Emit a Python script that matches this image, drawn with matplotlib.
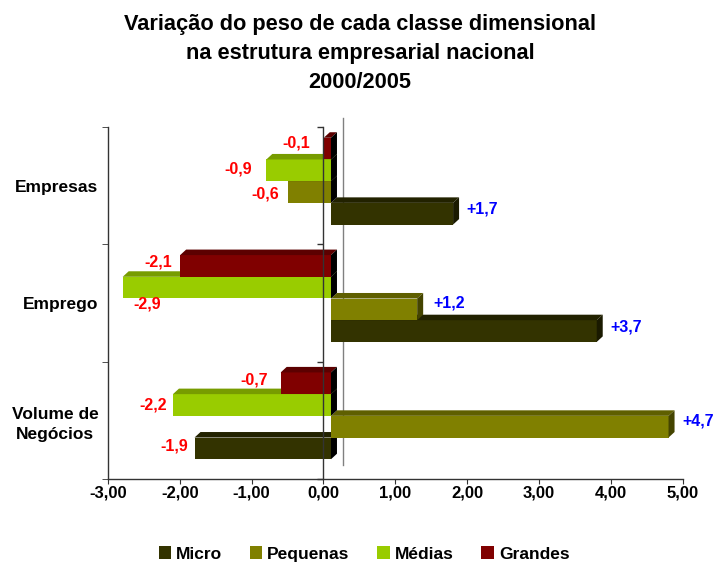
import numpy as np
import matplotlib
matplotlib.use('Agg')
import matplotlib.pyplot as plt
from matplotlib.patches import Polygon, Patch
from matplotlib.ticker import FuncFormatter
from matplotlib.transforms import offset_copy, blended_transform_factory

plt.rcParams['font.family'] = ['Liberation Sans', 'DejaVu Sans']
plt.rcParams['font.weight'] = 'bold'

# data
categories = ['Empresas', 'Emprego', 'Volume de\nNegócios']
series = ['Micro', 'Pequenas', 'Médias', 'Grandes']
micro = [1.7, 3.7, -1.9]
pequenas = [-0.6, 1.2, 4.7]
medias = [-0.9, -2.9, -2.2]
grandes = [-0.1, -2.1, -0.7]
values = dict(zip(series, [micro, pequenas, medias, grandes]))
title = 'Variação do peso de cada classe dimensional\nna estrutura empresarial nacional\n2000/2005'

# style
front = {'Micro': '#333300', 'Pequenas': '#808000', 'Médias': '#99CC00', 'Grandes': '#800000'}
topc = {'Micro': '#222200', 'Pequenas': '#5f5f00', 'Médias': '#779c00', 'Grandes': '#5c0000'}
sidec = {'Micro': '#1a1a00', 'Pequenas': '#444400', 'Médias': '#4d6600', 'Grandes': '#400000'}
slot = {'Grandes': -1.5, 'Médias': -0.5, 'Pequenas': 0.5, 'Micro': 1.5}
H = 0.185            # bar height (category units)
DX, DY = 0.0835, 0.047   # 3d depth
# label nudges in pixels (dx, dy, ha)
nudge = {
    (0, 'Grandes'): (-14, 6, 'right'), (0, 'Médias'): (-14, 1, 'right'),
    (0, 'Pequenas'): (-9, -1.5, 'right'), (0, 'Micro'): (13, 5, 'left'),
    (1, 'Grandes'): (-8, 4, 'right'), (1, 'Médias'): (25, -16, 'center'),
    (1, 'Pequenas'): (16, 6, 'left'), (1, 'Micro'): (14, 4, 'left'),
    (2, 'Grandes'): (-13, 3, 'right'), (2, 'Médias'): (-6, 0, 'right'),
    (2, 'Pequenas'): (14, 6, 'left'), (2, 'Micro'): (-6, 2, 'right'),
}

fig = plt.figure(figsize=(7.13, 5.63), dpi=100)
ax = fig.add_axes([108/713, 1-479/563, (682.6-108)/713, (479-127)/563])
ax.set_xlim(-3, 5)
ax.set_ylim(2.5, -0.5)
ftr = offset_copy(ax.transData, fig=fig, x=7.5, y=4.5, units='dots')

yc = np.arange(len(categories))
for z, s in enumerate(series):
    v = np.array(values[s])
    y = yc + slot[s]*H
    ax.barh(y, v, height=H, color=front[s], transform=ftr, zorder=3+z)
    for yi, vi in zip(y, v):
        x0, x1 = min(vi, 0), max(vi, 0)
        yt, yb = yi - H/2, yi + H/2
        ax.add_patch(Polygon([(x0, yt), (x1, yt), (x1+DX, yt-DY), (x0+DX, yt-DY)],
                             closed=True, fc=topc[s], ec='none', transform=ftr, zorder=3+z))
        ax.add_patch(Polygon([(x1, yt), (x1, yb), (x1+DX, yb-DY), (x1+DX, yt-DY)],
                             closed=True, fc=sidec[s] if vi > 0 else '#000000', ec='none',
                             transform=ftr, zorder=3+z))
    for i, (yi, vi) in enumerate(zip(y, v)):
        dx, dy, ha = nudge[(i, s)]
        ax.annotate(f'{vi:+.1f}'.replace('.', ','), (vi, yi), xycoords=ftr,
                    xytext=(dx, dy), textcoords='offset pixels', ha=ha, va='center',
                    color='#FF0000' if vi < 0 else '#0000FF', fontsize=11.5,
                    fontweight='bold', zorder=20, annotation_clip=False)

# zero line with ticks (front) and back wall line
bounds = [-0.5, 0.5, 1.5, 2.5]
ax.plot(np.zeros(len(bounds)), bounds, color='#333333', lw=1, marker=0, ms=4,
        zorder=15, clip_on=False)
btr = blended_transform_factory(offset_copy(ax.transData, fig=fig, x=19.5, y=0, units='dots'), ax.transAxes)
ax.plot([0, 0], [(479-465)/352, (479-118)/352], color='#808080', lw=1,
        transform=btr, zorder=1, clip_on=False)

for sp in ['top', 'right']:
    ax.spines[sp].set_visible(False)
for sp in ['left', 'bottom']:
    ax.spines[sp].set_color('#333333')
    ax.spines[sp].set_linewidth(1)

ax.set_yticks(yc)
ax.set_yticklabels(categories, fontsize=12.5, fontweight='bold')
for lb in ax.get_yticklabels():
    lb.set_multialignment('center')
    lb.set_linespacing(1.45)
ax.set_yticks(bounds, minor=True)
ax.tick_params(axis='y', which='major', length=0, pad=7)
ax.tick_params(axis='y', which='minor', length=4.3, color='#333333')
ax.set_xticks(np.arange(-3, 6))
ax.xaxis.set_major_formatter(FuncFormatter(lambda v, p: f'{v:.2f}'.replace('.', ',')))
ax.tick_params(axis='x', length=3.6, color='#333333', pad=1, labelsize=12)
for lb in ax.get_xticklabels():
    lb.set_fontweight('bold')

fig.text(360/713, 1-53.5/563, title, ha='center', va='center', fontsize=15.7,
         fontweight='bold', linespacing=1.52)

handles = [Patch(fc=front[s], ec='none') for s in series]
fig.legend(handles, series, loc='center', bbox_to_anchor=(364/713, 1-554/563), ncol=4,
           frameon=False, prop={'weight': 'bold', 'size': 12.5}, handlelength=0.7,
           handleheight=0.7, handletextpad=0.3, columnspacing=1.6, borderpad=0)

fig.savefig('out.png', dpi=100)
